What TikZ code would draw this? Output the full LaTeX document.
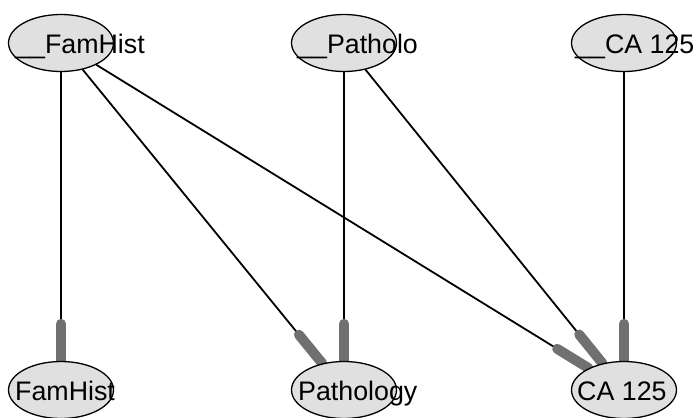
\documentclass[tikz,border=0pt]{standalone}
\usepackage{fontspec}
\setmainfont{Liberation Sans}
\usetikzlibrary{shapes.geometric,calc,backgrounds}
\definecolor{nodefill}{HTML}{E0E0E0}
\definecolor{tipgray}{HTML}{707070}
\tikzset{
  var/.style={ellipse, draw=black, line width=1.3pt, fill=nodefill,
    minimum width=105pt, minimum height=57pt, inner sep=0pt},
  varlabel/.style={anchor=base west, inner sep=0pt,
    font=\fontsize{26.8}{30}\selectfont},
  link/.style={draw=black, line width=1.8pt},
  linkend/.style={draw=tipgray, line width=10pt, line cap=round}
}
\begin{document}
\begin{tikzpicture}[x=1pt,y=-1pt]
\useasboundingbox (0,0) rectangle (697,418);
% parent variables (top row)
\node[var] (tF) at (61,43) {};
\node[var] (tP) at (344,43) {};
\node[var] (tC) at (624,43) {};
% child variables (bottom row)
\node[var] (bF) at (61,390) {};
\node[var] (bP) at (344,390) {};
\node[var] (bC) at (624,390) {};
% labels, set from the left of each ellipse
\node[varlabel] (ltF) at (15,53) {\_\_FamHist};
\node[varlabel] (ltP) at (297,53) {\_\_Patholo};
\node[varlabel] (ltC) at (575,53) {\_\_CA 125};
\node[varlabel] (lbF) at (15,400) {FamHist};
\node[varlabel] (lbP) at (298,400) {Pathology};
\node[varlabel] (lbC) at (577,400) {CA 125};
% dependencies: thin line ending in a thick grey stub
\begin{scope}[on background layer]
\foreach \a/\b in {tF/bF, tF/bP, tF/bC, tP/bP, tP/bC, tC/bC} {
  \path (\a) -- (\b) coordinate[pos=0] (s) coordinate[pos=1] (e);
  \draw[link] (s) -- ($(e)!37pt!(s)$);
  \draw[linkend] ($(e)!37pt!(s)$) -- (e);
}
\end{scope}
\end{tikzpicture}
\end{document}
